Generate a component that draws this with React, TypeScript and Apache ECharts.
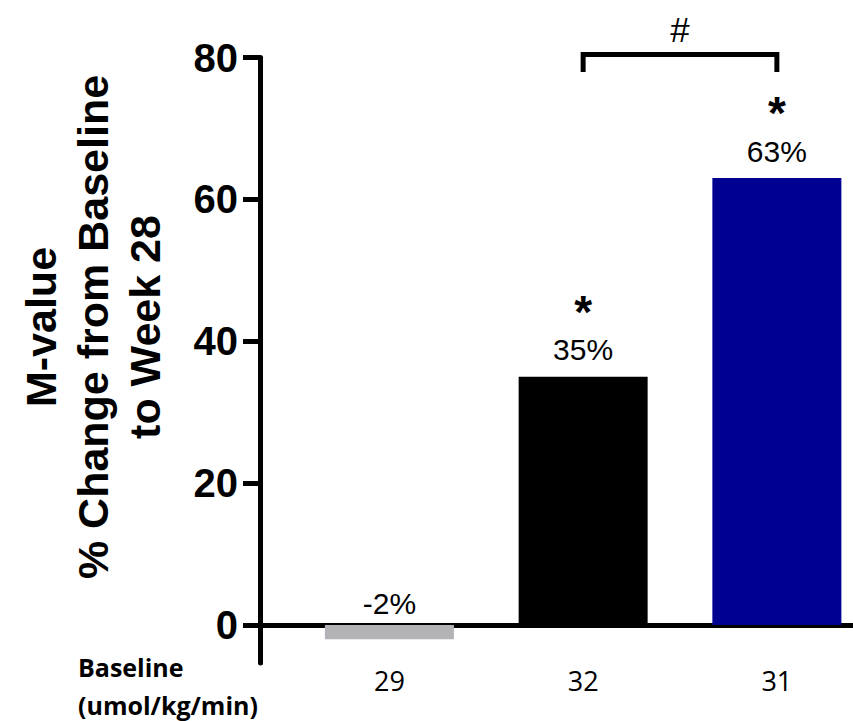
import React, { useEffect, useRef } from "react";
import * as echarts from "echarts";

const groupIndex = [0, 1, 2];
const changeValues = [-2, 35, 63];
const baselineValues = ["29", "32", "31"];
const significant = [false, true, true];
const barColors = ["#b3b3b7", "#000000", "#000091"];
const yTicks = [0, 20, 40, 60, 80];
const comparison = { from: 1, to: 2, mark: "#" };

export default function App() {
  const ref = useRef<HTMLDivElement>(null);
  useEffect(() => {
    if (!ref.current) return;
    const chart = echarts.init(ref.current, null, { renderer: "svg" });
    const barData = groupIndex.map((g, i) => ({
      value: [g, changeValues[i]],
      itemStyle: { color: barColors[i] },
      label: changeValues[i] < 0 ? { distance: 6 } : undefined,
    }));
    chart.setOption({
      animation: false,
      grid: { left: 260, right: 0, top: 57.5, bottom: 58, outerBoundsMode: "none" },
      xAxis: {
        type: "value",
        min: -0.668,
        max: 2.393,
        splitLine: { show: false },
        axisTick: { show: false },
        axisLine: { show: true, onZero: true, lineStyle: { color: "#000", width: 5 } },
        axisLabel: {
          customValues: groupIndex,
          formatter: (v: number) => baselineValues[Math.round(v)] ?? "",
          margin: 4,
          color: "#000",
          fontFamily: "Open Sans",
          fontSize: 27,
        },
      },
      yAxis: {
        type: "value",
        min: -5.36,
        max: 80,
        splitLine: { show: false },
        axisLine: { show: true, onZero: false, lineStyle: { color: "#000", width: 5 } },
        axisTick: { show: true, customValues: yTicks, length: 17, lineStyle: { color: "#000", width: 5 } },
        axisLabel: {
          customValues: yTicks,
          margin: 22,
          color: "#000",
          fontFamily: "Liberation Sans",
          fontWeight: "bold",
          fontSize: 40,
        },
      },
      series: [
        {
          type: "bar",
          data: barData,
          barWidth: 129,
          label: {
            show: true,
            position: "top",
            distance: 12,
            formatter: (p: any) => {
              const i = p.dataIndex;
              const pct = `{pct|${changeValues[i]}%}`;
              return significant[i] ? `{star|*}\n${pct}` : pct;
            },
            rich: {
              star: { fontFamily: "Liberation Sans", fontWeight: "bold", fontSize: 46, lineHeight: 46, color: "#000" },
              pct: { fontFamily: "Liberation Sans", fontSize: 30, lineHeight: 30, color: "#000" },
            },
          },
        },
        {
          type: "custom",
          data: [[comparison.from, 80, comparison.to]],
          encode: { x: [0, 2], y: 1 },
          clip: false,
          renderItem: (params: any, api: any) => {
            const a = api.coord([api.value(0), api.value(1)]);
            const b = api.coord([api.value(2), api.value(1)]);
            const top = a[1] - 3;
            const legs = top + 17.5;
            return {
              type: "group",
              children: [
                {
                  type: "polyline",
                  shape: { points: [[a[0], legs], [a[0], top], [b[0], top], [b[0], legs]] },
                  style: { stroke: "#000", lineWidth: 5, fill: "none", lineJoin: "miter" },
                },
                {
                  type: "text",
                  style: {
                    text: comparison.mark,
                    x: (a[0] + b[0]) / 2,
                    y: top - 25,
                    align: "center",
                    verticalAlign: "middle",
                    fontFamily: "Liberation Sans",
                    fontSize: 35,
                    fill: "#000",
                  },
                },
              ],
            };
          },
        },
      ],
      graphic: [
        {
          type: "text",
          x: 93,
          y: 327,
          rotation: Math.PI / 2,
          style: {
            text: "M-value\n% Change from Baseline\nto Week 28",
            align: "center",
            verticalAlign: "middle",
            fontFamily: "Liberation Sans",
            fontWeight: "bold",
            fontSize: 43,
            lineHeight: 52,
            fill: "#000",
          },
        },
        {
          type: "text",
          x: 78,
          y: 667,
          style: {
            text: "Baseline",
            verticalAlign: "middle",
            fontFamily: "Open Sans",
            fontWeight: "bold",
            fontSize: 25,
            lineHeight: 28,
            fill: "#000",
          },
        },
        {
          type: "text",
          x: 78,
          y: 705,
          style: {
            text: "(umol/kg/min)",
            verticalAlign: "middle",
            fontFamily: "Open Sans",
            fontWeight: "bold",
            fontSize: 25,
            lineHeight: 28,
            fill: "#000",
          },
        },
      ],
    });
    return () => chart.dispose();
  }, []);
  return <div ref={ref} style={{ width: 853, height: 721, position: "absolute", left: 0, top: 0 }} />;
}
